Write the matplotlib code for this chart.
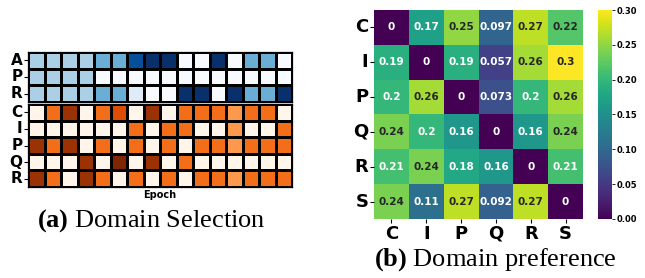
import numpy as np
import matplotlib
matplotlib.use('Agg')
import matplotlib.pyplot as plt
import seaborn as sns

# domain selection over epochs (weights per column)
sel_top_rows = ['A', 'P', 'R']
sel_top = [
    [1/3, 1/3, 1/3, 1/3, 0.5, 0.5, 0.88, 1, 1, 0, 0, 1, 0, 0.5, 0.5, 0],
    [1/3, 1/3, 1/3, 1/3, 0, 0, 0, 0, 0, 0, 0, 0, 0, 0, 0, 0],
    [1/3, 1/3, 1/3, 1/3, 0.5, 0.5, 0.12, 0, 0, 1, 1, 0, 1, 0.5, 0.5, 1],
]
sel_bot_rows = ['C', 'I', 'P', 'Q', 'R']
t = 1/3
sel_bot = [
    [0, t, 0.5, 0, t, 0.4, 0, 0.5, 0, t, t, t, 0.25, t, t, 0],
    [0, 0, 0, 0, 0, 0, t, 0, t, t, 0, 0, 0.25, 0, 0, t],
    [0.5, t, 0.5, 0, t, 0, t, 0, t, 0, t, t, 0.25, t, t, t],
    [0, 0, 0, 0.5, 0, 0.6, 0, 0.5, 0, t, 0, 0, 0, 0, 0, 0],
    [0.5, t, 0, 0.5, t, 0, t, 0, t, 0, t, t, 0.25, t, t, t],
]

# domain preference matrix
pref_labels = ['C', 'I', 'P', 'Q', 'R', 'S']
pref = [
    [0, 0.17, 0.25, 0.097, 0.27, 0.22],
    [0.19, 0, 0.19, 0.057, 0.26, 0.3],
    [0.2, 0.26, 0, 0.073, 0.2, 0.26],
    [0.24, 0.2, 0.16, 0, 0.16, 0.24],
    [0.21, 0.24, 0.18, 0.16, 0, 0.21],
    [0.24, 0.11, 0.27, 0.092, 0.27, 0],
]

plt.rcParams['mathtext.fontset'] = 'custom'
plt.rcParams['mathtext.bf'] = 'Liberation Serif:bold'
plt.rcParams['mathtext.rm'] = 'Liberation Serif'

W, H = 645, 278
fig = plt.figure(figsize=(W / 100, H / 100), dpi=100)


def px_axes(x0, y0, x1, y1):
    # pixel box (top-left origin) -> figure axes
    return fig.add_axes([x0 / W, 1 - y1 / H, (x1 - x0) / W, (y1 - y0) / H])


ax_top = px_axes(28, 52, 292, 102)
ax_bot = px_axes(28, 104, 292, 187)

sns.heatmap(np.array(sel_top), ax=ax_top, cmap='Blues', vmin=0, vmax=1,
            cbar=False, linewidths=0.8, linecolor='black',
            xticklabels=False, yticklabels=sel_top_rows)
sns.heatmap(np.array(sel_bot), ax=ax_bot, cmap='Oranges', vmin=0, vmax=0.55,
            cbar=False, linewidths=0.8, linecolor='black',
            xticklabels=False, yticklabels=sel_bot_rows)
for ax in (ax_top, ax_bot):
    ax.tick_params(axis='y', length=3, width=0.8, pad=1)
    for lab in ax.get_yticklabels():
        lab.set_fontsize(11)
        lab.set_fontweight('bold')
        lab.set_rotation(0)
    for s in ax.spines.values():
        s.set_visible(True)
        s.set_linewidth(0.9)
ax_bot.set_xlabel('Epoch', fontsize=7, fontweight='bold', labelpad=2)

ax_h = px_axes(374, 10, 583, 219)
ax_cb = px_axes(598, 10, 612, 219)
sns.heatmap(np.array(pref), ax=ax_h, cbar_ax=ax_cb, cmap='viridis',
            vmin=0, vmax=0.3, annot=True,
            annot_kws={'fontsize': 7.5, 'fontweight': 'bold'},
            xticklabels=pref_labels, yticklabels=pref_labels)
ax_h.tick_params(axis='both', length=3, width=0.8, pad=1)
for lab in ax_h.get_xticklabels() + ax_h.get_yticklabels():
    lab.set_fontsize(13)
    lab.set_fontweight('bold')
    lab.set_rotation(0)
ax_cb.set_yticks([0, 0.05, 0.1, 0.15, 0.2, 0.25, 0.3])
ax_cb.set_yticklabels(['0.00', '0.05', '0.10', '0.15', '0.20', '0.25', '0.30'])
ax_cb.tick_params(labelsize=6, length=2, width=0.6, pad=1)
for lab in ax_cb.get_yticklabels():
    lab.set_fontweight('bold')

serif = ['Liberation Serif', 'DejaVu Serif']
fig.text(151 / W, 1 - 221 / H, r'$\mathbf{(a)}$ Domain Selection', fontsize=19,
         family=serif, ha='center', va='center')
fig.text(495 / W, 1 - 260 / H, r'$\mathbf{(b)}$ Domain preference', fontsize=19,
         family=serif, ha='center', va='center')

fig.savefig('out.png', dpi=100)
